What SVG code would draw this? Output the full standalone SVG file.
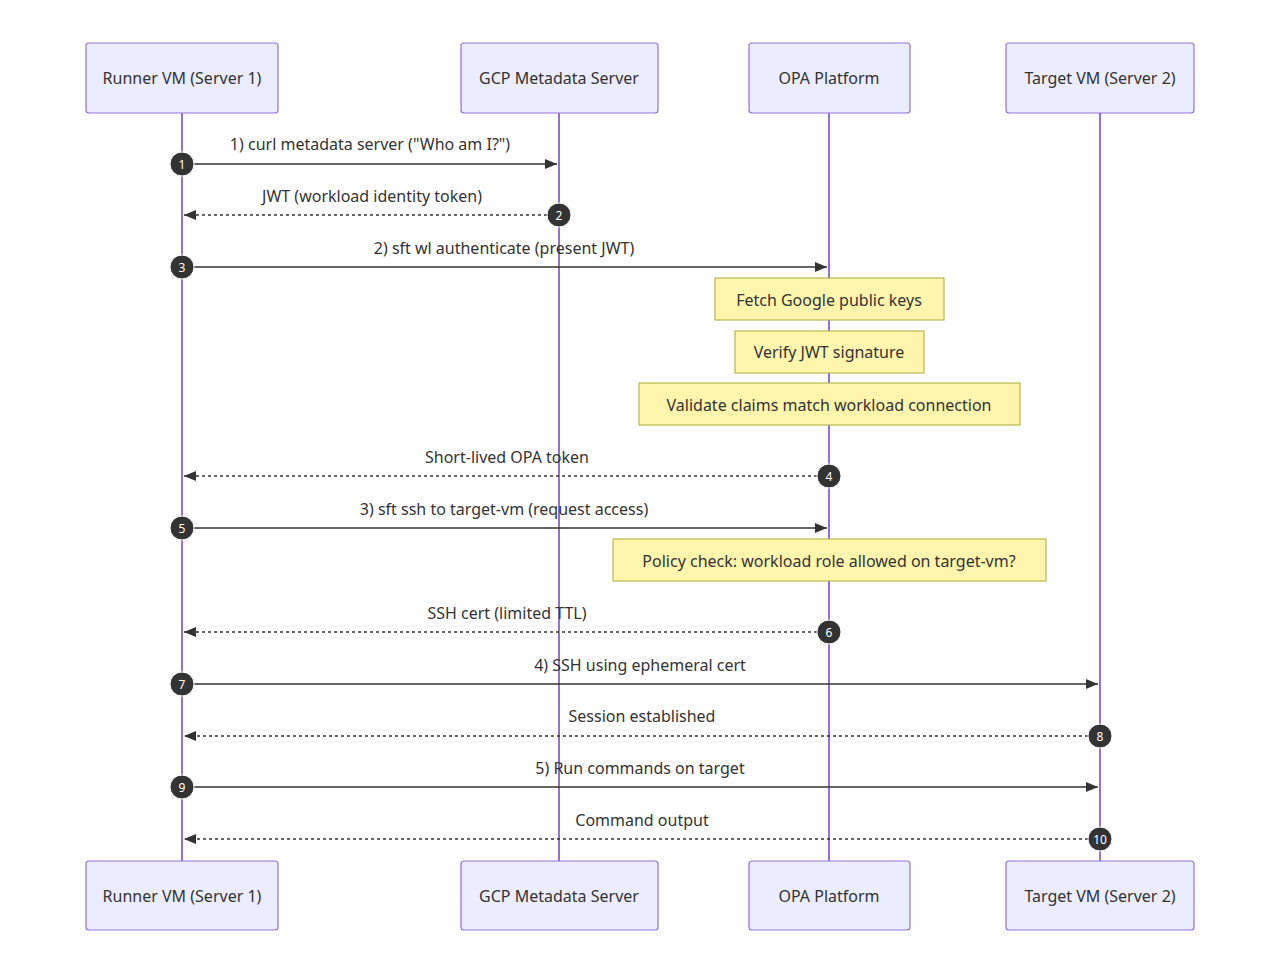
<svg xmlns="http://www.w3.org/2000/svg" width="1280" height="975" viewBox="0 0 1280 975">
<defs>
<style>
text{font-family:"Noto Sans","Liberation Sans",sans-serif;font-size:16px;fill:#333;text-anchor:middle;dominant-baseline:central}
.actor{fill:#ECECFF;stroke:#9370DB;stroke-width:1.2}
.life{stroke:#9370DB;stroke-width:2}
.note{fill:#fff5ad;stroke:#aaaa33;stroke-width:1}
.msg{stroke:#333;stroke-width:1.5;fill:none;marker-end:url(#ah)}
.dash{stroke-dasharray:3,3}
.num circle{fill:#333;stroke:#fff;stroke-width:1}
.num text{fill:#fff;font-size:12px}
</style>
<marker id="ah" viewBox="0 0 12 10" refX="12" refY="5" markerWidth="12" markerHeight="10" markerUnits="userSpaceOnUse" orient="auto"><path d="M0,0L12,5L0,10z" fill="#333"/></marker>
</defs>
<rect width="1280" height="975" fill="#fff"/>
<g id="lifelines">
<line class="life" x1="182" y1="113" x2="182" y2="861"/>
<line class="life" x1="559" y1="113" x2="559" y2="861"/>
<line class="life" x1="829" y1="113" x2="829" y2="861"/>
<line class="life" x1="1100" y1="113" x2="1100" y2="861"/>
</g>
<g id="runner"><rect class="actor" x="86" y="43" width="192" height="70" rx="3"/><text x="182" y="78">Runner VM (Server 1)</text></g>
<g id="gcp"><rect class="actor" x="461" y="43" width="197" height="70" rx="3"/><text x="559" y="78">GCP Metadata Server</text></g>
<g id="opa"><rect class="actor" x="749" y="43" width="161" height="70" rx="3"/><text x="829" y="78">OPA Platform</text></g>
<g id="target"><rect class="actor" x="1006" y="43" width="188" height="70" rx="3"/><text x="1100" y="78">Target VM (Server 2)</text></g>
<g id="runner-bottom"><rect class="actor" x="86" y="861" width="192" height="69" rx="3"/><text x="182" y="896">Runner VM (Server 1)</text></g>
<g id="gcp-bottom"><rect class="actor" x="461" y="861" width="197" height="69" rx="3"/><text x="559" y="896">GCP Metadata Server</text></g>
<g id="opa-bottom"><rect class="actor" x="749" y="861" width="161" height="69" rx="3"/><text x="829" y="896">OPA Platform</text></g>
<g id="target-bottom"><rect class="actor" x="1006" y="861" width="188" height="69" rx="3"/><text x="1100" y="896">Target VM (Server 2)</text></g>
<g id="note1"><rect class="note" x="715" y="278" width="229" height="42"/><text x="829" y="300">Fetch Google public keys</text></g>
<g id="note2"><rect class="note" x="735" y="331" width="189" height="42"/><text x="829" y="352">Verify JWT signature</text></g>
<g id="note3"><rect class="note" x="639" y="383" width="381" height="42"/><text x="829" y="405">Validate claims match workload connection</text></g>
<g id="note4"><rect class="note" x="613" y="539" width="433" height="42"/><text x="829" y="561">Policy check: workload role allowed on target-vm?</text></g>
<g id="connectors">
<line class="msg" x1="182" y1="164" x2="557" y2="164"/><text x="370" y="144">1) curl metadata server ("Who am I?")</text>
<line class="msg dash" x1="559" y1="215" x2="184" y2="215"/><text x="372" y="196">JWT (workload identity token)</text>
<line class="msg" x1="182" y1="267" x2="827" y2="267"/><text x="504" y="248">2) sft wl authenticate (present JWT)</text>
<line class="msg dash" x1="829" y1="476" x2="184" y2="476"/><text x="507" y="457">Short-lived OPA token</text>
<line class="msg" x1="182" y1="528" x2="827" y2="528"/><text x="504" y="509">3) sft ssh to target-vm (request access)</text>
<line class="msg dash" x1="829" y1="632" x2="184" y2="632"/><text x="507" y="613">SSH cert (limited TTL)</text>
<line class="msg" x1="182" y1="684" x2="1098" y2="684"/><text x="640" y="665">4) SSH using ephemeral cert</text>
<line class="msg dash" x1="1100" y1="736" x2="184" y2="736"/><text x="642" y="716">Session established</text>
<line class="msg" x1="182" y1="787" x2="1098" y2="787"/><text x="640" y="768">5) Run commands on target</text>
<line class="msg dash" x1="1100" y1="839" x2="184" y2="839"/><text x="642" y="820">Command output</text>
</g>
<g id="numbers" class="num">
<g><circle cx="182" cy="164" r="12"/><text x="182" y="164">1</text></g>
<g><circle cx="559" cy="215" r="12"/><text x="559" y="215">2</text></g>
<g><circle cx="182" cy="267" r="12"/><text x="182" y="267">3</text></g>
<g><circle cx="829" cy="476" r="12"/><text x="829" y="476">4</text></g>
<g><circle cx="182" cy="528" r="12"/><text x="182" y="528">5</text></g>
<g><circle cx="829" cy="632" r="12"/><text x="829" y="632">6</text></g>
<g><circle cx="182" cy="684" r="12"/><text x="182" y="684">7</text></g>
<g><circle cx="1100" cy="736" r="12"/><text x="1100" y="736">8</text></g>
<g><circle cx="182" cy="787" r="12"/><text x="182" y="787">9</text></g>
<g><circle cx="1100" cy="839" r="12"/><text x="1100" y="839">10</text></g>
</g>
</svg>
